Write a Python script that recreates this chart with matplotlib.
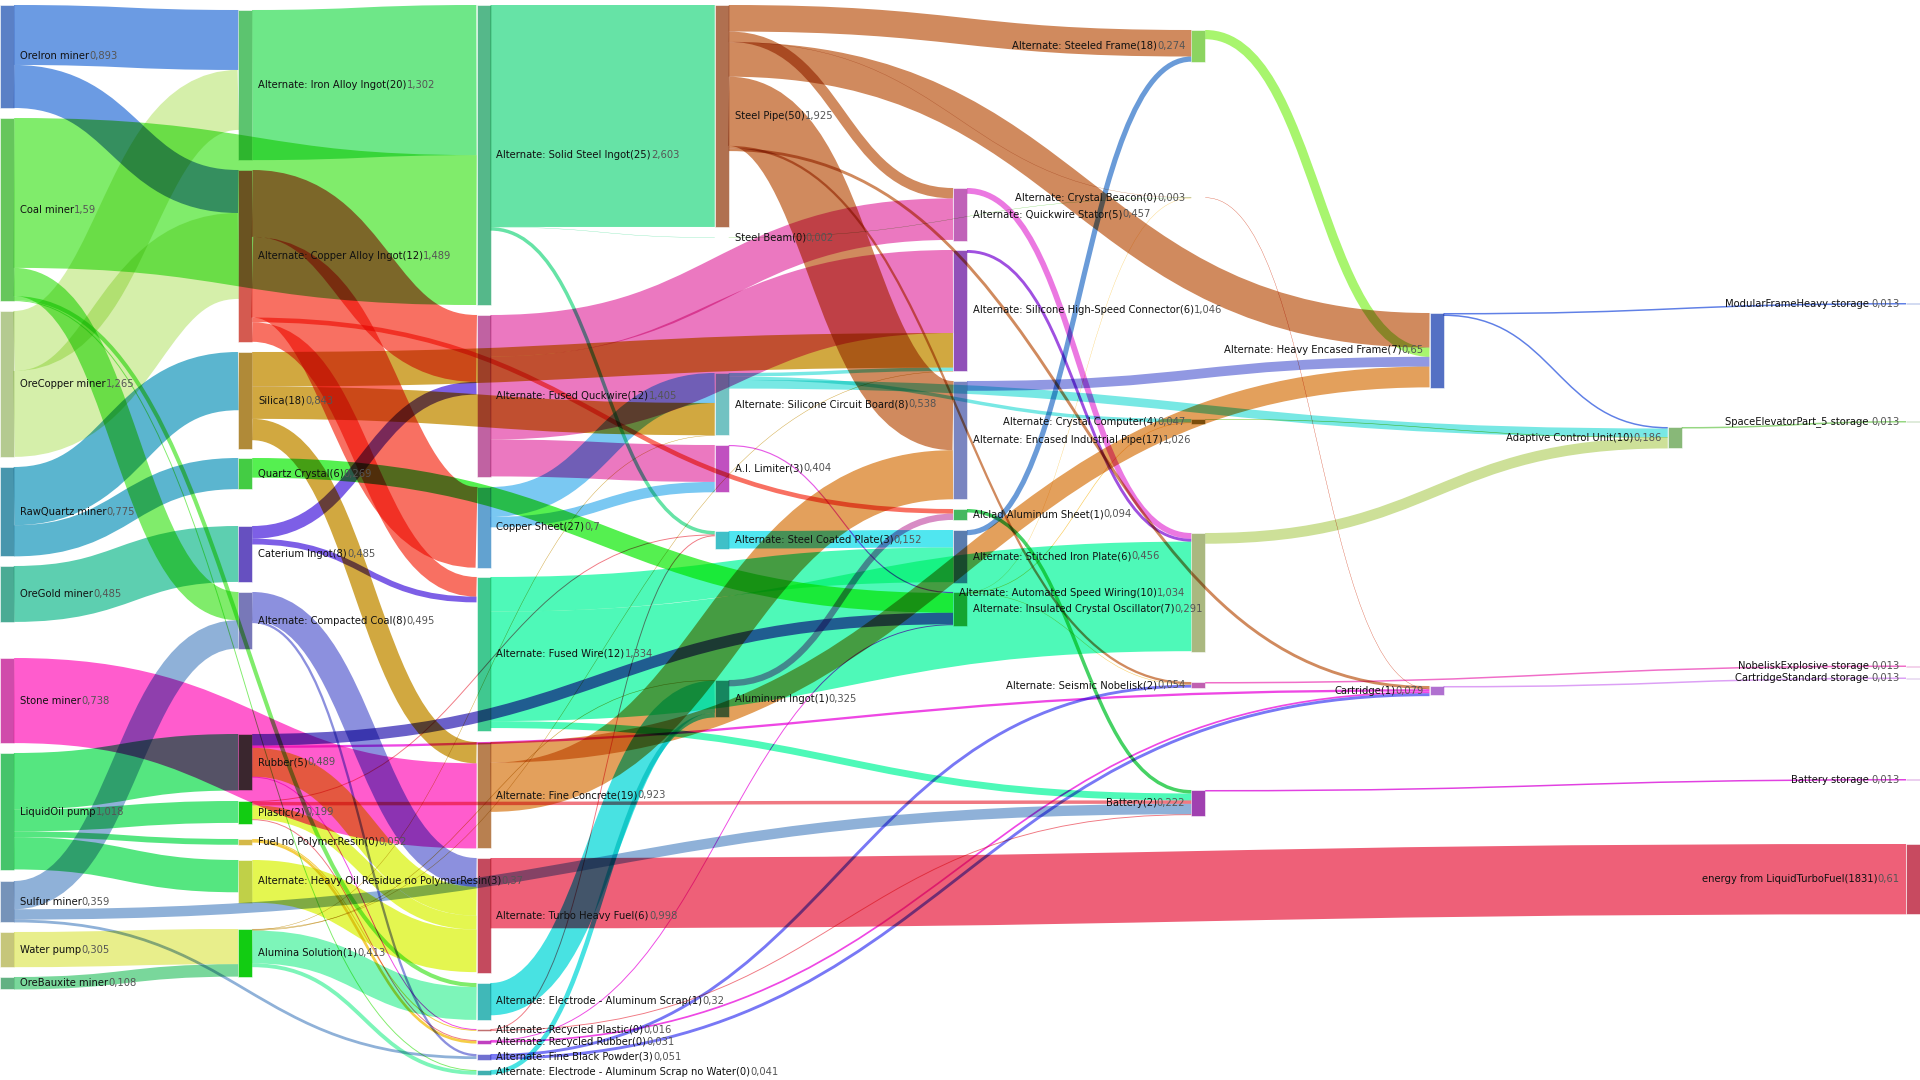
import matplotlib
matplotlib.use("Agg")
import matplotlib.pyplot as plt
from matplotlib.path import Path
from matplotlib.patches import PathPatch, Rectangle
from matplotlib.backends.backend_agg import RendererAgg
import numpy as np

# ---------------- data ----------------
node_names = [
    "OreIron miner", "Coal miner", "OreCopper miner", "RawQuartz miner", "OreGold miner",
    "Stone miner", "LiquidOil pump", "Sulfur miner", "Water pump", "OreBauxite miner",
    "Alternate: Iron Alloy Ingot(20)", "Alternate: Copper Alloy Ingot(12)", "Silica(18)",
    "Quartz Crystal(6)", "Caterium Ingot(8)", "Alternate: Compacted Coal(8)", "Rubber(5)",
    "Plastic(2)", "Fuel no PolymerResin(0)", "Alternate: Heavy Oil Residue no PolymerResin(3)",
    "Alumina Solution(1)",
    "Alternate: Solid Steel Ingot(25)", "Alternate: Fused Quckwire(12)", "Copper Sheet(27)",
    "Alternate: Fused Wire(12)", "Alternate: Fine Concrete(19)", "Alternate: Turbo Heavy Fuel(6)",
    "Alternate: Electrode - Aluminum Scrap(1)", "Alternate: Recycled Plastic(0)",
    "Alternate: Recycled Rubber(0)", "Alternate: Fine Black Powder(3)",
    "Alternate: Electrode - Aluminum Scrap no Water(0)",
    "Steel Pipe(50)", "Steel Beam(0)", "Alternate: Silicone Circuit Board(8)", "A.I. Limiter(3)",
    "Alternate: Steel Coated Plate(3)", "Aluminum Ingot(1)",
    "Alternate: Quickwire Stator(5)", "Alternate: Silicone High-Speed Connector(6)",
    "Alternate: Encased Industrial Pipe(17)", "Alclad Aluminum Sheet(1)",
    "Alternate: Stitched Iron Plate(6)", "Alternate: Insulated Crystal Oscillator(7)",
    "Alternate: Steeled Frame(18)", "Alternate: Crystal Beacon(0)", "Alternate: Crystal Computer(4)",
    "Alternate: Automated Speed Wiring(10)", "Alternate: Seismic Nobelisk(2)", "Battery(2)",
    "Alternate: Heavy Encased Frame(7)", "Cartridge(1)",
    "Adaptive Control Unit(10)",
    "ModularFrameHeavy storage ", "SpaceElevatorPart_5 storage ", "NobeliskExplosive storage ",
    "CartridgeStandard storage ", "Battery storage ", "energy from LiquidTurboFuel(1831)",
]
node_values = [
    0.893, 1.59, 1.265, 0.775, 0.485, 0.738, 1.018, 0.359, 0.305, 0.108,
    1.302, 1.489, 0.843, 0.269, 0.485, 0.495, 0.489, 0.199, 0.052, 0.37, 0.413,
    2.603, 1.405, 0.7, 1.334, 0.923, 0.998, 0.32, 0.016, 0.031, 0.051, 0.041,
    1.925, 0.002, 0.538, 0.404, 0.152, 0.325,
    0.457, 1.046, 1.026, 0.094, 0.456, 0.291,
    0.274, 0.003, 0.047, 1.034, 0.054, 0.222,
    0.65, 0.079,
    0.186,
    0.013, 0.013, 0.013, 0.013, 0.013, 0.61,
]

link_source = [
    "OreIron miner", "OreIron miner", "Coal miner", "Coal miner", "Coal miner", "Coal miner",
    "OreCopper miner", "OreCopper miner", "RawQuartz miner", "RawQuartz miner", "OreGold miner",
    "Stone miner", "LiquidOil pump", "LiquidOil pump", "LiquidOil pump", "LiquidOil pump",
    "Sulfur miner", "Sulfur miner", "Sulfur miner", "Water pump", "OreBauxite miner",
    "Alternate: Iron Alloy Ingot(20)",
    "Alternate: Copper Alloy Ingot(12)", "Alternate: Copper Alloy Ingot(12)",
    "Alternate: Copper Alloy Ingot(12)", "Alternate: Copper Alloy Ingot(12)",
    "Silica(18)", "Silica(18)", "Silica(18)", "Quartz Crystal(6)",
    "Caterium Ingot(8)", "Caterium Ingot(8)",
    "Alternate: Compacted Coal(8)", "Alternate: Compacted Coal(8)",
    "Rubber(5)", "Rubber(5)", "Rubber(5)", "Rubber(5)",
    "Plastic(2)", "Plastic(2)", "Plastic(2)", "Plastic(2)",
    "Fuel no PolymerResin(0)", "Fuel no PolymerResin(0)",
    "Alternate: Heavy Oil Residue no PolymerResin(3)",
    "Alumina Solution(1)", "Alumina Solution(1)", "Alumina Solution(1)", "Alumina Solution(1)",
    "Alumina Solution(1)",
    "Alternate: Solid Steel Ingot(25)", "Alternate: Solid Steel Ingot(25)",
    "Alternate: Solid Steel Ingot(25)",
    "Alternate: Fused Quckwire(12)", "Alternate: Fused Quckwire(12)", "Alternate: Fused Quckwire(12)",
    "Copper Sheet(27)", "Copper Sheet(27)",
    "Alternate: Fused Wire(12)", "Alternate: Fused Wire(12)", "Alternate: Fused Wire(12)",
    "Alternate: Fine Concrete(19)", "Alternate: Fine Concrete(19)",
    "Alternate: Turbo Heavy Fuel(6)",
    "Alternate: Electrode - Aluminum Scrap(1)", "Alternate: Electrode - Aluminum Scrap no Water(0)",
    "Alternate: Recycled Plastic(0)", "Alternate: Recycled Plastic(0)",
    "Alternate: Recycled Rubber(0)", "Alternate: Recycled Rubber(0)",
    "Alternate: Fine Black Powder(3)", "Alternate: Fine Black Powder(3)",
    "Steel Pipe(50)", "Steel Pipe(50)", "Steel Pipe(50)", "Steel Pipe(50)", "Steel Pipe(50)",
    "Steel Pipe(50)", "Steel Pipe(50)",
    "Steel Beam(0)",
    "Alternate: Silicone Circuit Board(8)", "Alternate: Silicone Circuit Board(8)",
    "Alternate: Silicone Circuit Board(8)",
    "A.I. Limiter(3)", "Alternate: Steel Coated Plate(3)", "Aluminum Ingot(1)",
    "Alternate: Quickwire Stator(5)", "Alternate: Silicone High-Speed Connector(6)",
    "Alternate: Encased Industrial Pipe(17)", "Alclad Aluminum Sheet(1)",
    "Alternate: Stitched Iron Plate(6)",
    "Alternate: Insulated Crystal Oscillator(7)", "Alternate: Insulated Crystal Oscillator(7)",
    "Alternate: Insulated Crystal Oscillator(7)",
    "Alternate: Steeled Frame(18)", "Alternate: Crystal Beacon(0)", "Alternate: Crystal Computer(4)",
    "Alternate: Automated Speed Wiring(10)", "Alternate: Seismic Nobelisk(2)", "Battery(2)",
    "Alternate: Heavy Encased Frame(7)", "Alternate: Heavy Encased Frame(7)", "Cartridge(1)",
    "Adaptive Control Unit(10)",
]
link_target = [
    "Alternate: Iron Alloy Ingot(20)", "Alternate: Copper Alloy Ingot(12)",
    "Alternate: Solid Steel Ingot(25)", "Alternate: Compacted Coal(8)",
    "Alternate: Electrode - Aluminum Scrap(1)", "Alternate: Electrode - Aluminum Scrap no Water(0)",
    "Alternate: Iron Alloy Ingot(20)", "Alternate: Copper Alloy Ingot(12)",
    "Silica(18)", "Quartz Crystal(6)", "Caterium Ingot(8)",
    "Alternate: Fine Concrete(19)", "Rubber(5)", "Plastic(2)", "Fuel no PolymerResin(0)",
    "Alternate: Heavy Oil Residue no PolymerResin(3)",
    "Alternate: Compacted Coal(8)", "Battery(2)", "Alternate: Fine Black Powder(3)",
    "Alumina Solution(1)", "Alumina Solution(1)",
    "Alternate: Solid Steel Ingot(25)",
    "Alternate: Fused Quckwire(12)", "Alclad Aluminum Sheet(1)", "Copper Sheet(27)",
    "Alternate: Fused Wire(12)",
    "Alternate: Silicone High-Speed Connector(6)", "Alternate: Silicone Circuit Board(8)",
    "Alternate: Fine Concrete(19)", "Alternate: Insulated Crystal Oscillator(7)",
    "Alternate: Fused Quckwire(12)", "Alternate: Fused Wire(12)",
    "Alternate: Turbo Heavy Fuel(6)", "Alternate: Fine Black Powder(3)",
    "Alternate: Insulated Crystal Oscillator(7)", "Cartridge(1)", "Alternate: Turbo Heavy Fuel(6)",
    "Alternate: Recycled Plastic(0)",
    "Alternate: Steel Coated Plate(3)", "Battery(2)", "Alternate: Turbo Heavy Fuel(6)",
    "Alternate: Recycled Rubber(0)",
    "Alternate: Recycled Rubber(0)", "Alternate: Recycled Plastic(0)",
    "Alternate: Turbo Heavy Fuel(6)",
    "Alternate: Electrode - Aluminum Scrap(1)", "Alternate: Electrode - Aluminum Scrap no Water(0)",
    "Alternate: Silicone Circuit Board(8)", "Alternate: Silicone High-Speed Connector(6)",
    "Aluminum Ingot(1)",
    "Steel Pipe(50)", "Steel Beam(0)", "Alternate: Steel Coated Plate(3)",
    "Alternate: Quickwire Stator(5)", "Alternate: Silicone High-Speed Connector(6)", "A.I. Limiter(3)",
    "Alternate: Silicone Circuit Board(8)", "A.I. Limiter(3)",
    "Alternate: Stitched Iron Plate(6)", "Alternate: Automated Speed Wiring(10)", "Battery(2)",
    "Alternate: Encased Industrial Pipe(17)", "Alternate: Heavy Encased Frame(7)",
    "energy from LiquidTurboFuel(1831)",
    "Aluminum Ingot(1)", "Aluminum Ingot(1)",
    "Alternate: Steel Coated Plate(3)", "Battery(2)",
    "Cartridge(1)", "Alternate: Insulated Crystal Oscillator(7)",
    "Alternate: Seismic Nobelisk(2)", "Cartridge(1)",
    "Alternate: Steeled Frame(18)", "Alternate: Quickwire Stator(5)", "Alternate: Crystal Beacon(0)",
    "Alternate: Heavy Encased Frame(7)", "Alternate: Encased Industrial Pipe(17)",
    "Alternate: Seismic Nobelisk(2)", "Cartridge(1)",
    "Alternate: Crystal Beacon(0)",
    "Alternate: Silicone High-Speed Connector(6)", "Alternate: Crystal Computer(4)",
    "Adaptive Control Unit(10)",
    "Alternate: Insulated Crystal Oscillator(7)", "Alternate: Stitched Iron Plate(6)",
    "Alclad Aluminum Sheet(1)",
    "Alternate: Automated Speed Wiring(10)", "Alternate: Automated Speed Wiring(10)",
    "Alternate: Heavy Encased Frame(7)", "Battery(2)", "Alternate: Steeled Frame(18)",
    "Alternate: Crystal Beacon(0)", "Alternate: Crystal Computer(4)", "Alternate: Seismic Nobelisk(2)",
    "Alternate: Heavy Encased Frame(7)", "Cartridge(1)", "Adaptive Control Unit(10)",
    "Adaptive Control Unit(10)", "NobeliskExplosive storage ", "Battery storage ",
    "ModularFrameHeavy storage ", "Adaptive Control Unit(10)", "CartridgeStandard storage ",
    "SpaceElevatorPart_5 storage ",
]
link_value = [
    0.52, 0.373, 1.30, 0.245, 0.035, 0.008,
    0.52, 0.745, 0.505, 0.27, 0.485,
    0.738, 0.49, 0.19, 0.05, 0.28,
    0.245, 0.09, 0.024, 0.305, 0.108,
    1.302,
    0.58, 0.04, 0.70, 0.17,
    0.30, 0.28, 0.185, 0.17,
    0.11, 0.05,
    0.25, 0.02,
    0.10, 0.02, 0.25, 0.008,
    0.008, 0.03, 0.12, 0.008,
    0.023, 0.008,
    0.37,
    0.285, 0.033, 0.004, 0.004, 0.005,
    1.925, 0.002, 0.03,
    0.36, 0.72, 0.32,
    0.26, 0.09,
    0.30, 0.95, 0.06,
    0.426, 0.18,
    0.61,
    0.28, 0.04,
    0.008, 0.008,
    0.015, 0.008,
    0.025, 0.025,
    0.23, 0.09, 0.002, 0.30, 0.60, 0.02, 0.025,
    0.002,
    0.03, 0.03, 0.075,
    0.01, 0.152, 0.055,
    0.05, 0.025, 0.085, 0.03, 0.045,
    0.002, 0.005, 0.004,
    0.08, 0.003, 0.005, 0.093, 0.013, 0.013,
    0.013, 0.013, 0.013,
    0.013,
]
link_item = [
    "ironore", "ironore", "coal", "coal", "coal", "coal",
    "copperore", "copperore", "rawquartz", "rawquartz", "catore",
    "limestone", "crude", "crude", "crude", "crude",
    "sulfur", "sulfur", "sulfur", "water", "bauxite",
    "ironingot",
    "copperingot", "copperingot", "copperingot", "copperingot",
    "silica", "silica", "silica", "quartz",
    "cateriumingot", "cateriumingot",
    "compactedcoal", "compactedcoal",
    "rubber_dark", "rubber", "hor", "rubber",
    "plastic", "plastic", "hor", "plastic",
    "fuel", "fuel",
    "hor",
    "alumina", "alumina", "silica", "silica", "silica",
    "steelingot", "steelingot", "steelingot",
    "quickwire", "quickwire", "quickwire",
    "coppersheet", "coppersheet",
    "wire", "wire", "wire",
    "concrete", "concrete",
    "turbofuel",
    "alscrap", "alscrap",
    "plastic", "plastic",
    "rubber", "rubber",
    "blackpowder", "blackpowder",
    "steelpipe", "steelpipe", "steelpipe", "steelpipe", "steelpipe", "steelpipe", "steelpipe",
    "steelbeam",
    "circuit", "circuit", "circuit",
    "ailimiter", "ironplate", "aluminumingot",
    "stator", "hsc", "encasedbeam", "alclad", "reinforced",
    "oscillator", "oscillator", "oscillator",
    "modframe", "beacon", "computer", "autowiring", "nobelisk", "battery",
    "heavyframe", "heavyframe", "cartridge",
    "acu",
]

# ---------------- layout / style ----------------
W, H = 1920, 1080
NODE_W = 14
COL_STEP = (W - NODE_W) / 8
SCALE = 115.3  # px per unit

node_layout = {  # column, top (px)
    "OreIron miner": (0, 5), "Coal miner": (0, 118), "OreCopper miner": (0, 311),
    "RawQuartz miner": (0, 467), "OreGold miner": (0, 566), "Stone miner": (0, 658),
    "LiquidOil pump": (0, 753), "Sulfur miner": (0, 881), "Water pump": (0, 932),
    "OreBauxite miner": (0, 977),
    "Alternate: Iron Alloy Ingot(20)": (1, 10), "Alternate: Copper Alloy Ingot(12)": (1, 170),
    "Silica(18)": (1, 352), "Quartz Crystal(6)": (1, 458), "Caterium Ingot(8)": (1, 526),
    "Alternate: Compacted Coal(8)": (1, 592), "Rubber(5)": (1, 734), "Plastic(2)": (1, 801),
    "Fuel no PolymerResin(0)": (1, 839), "Alternate: Heavy Oil Residue no PolymerResin(3)": (1, 860),
    "Alumina Solution(1)": (1, 929),
    "Alternate: Solid Steel Ingot(25)": (2, 5), "Alternate: Fused Quckwire(12)": (2, 315),
    "Copper Sheet(27)": (2, 487), "Alternate: Fused Wire(12)": (2, 577),
    "Alternate: Fine Concrete(19)": (2, 742), "Alternate: Turbo Heavy Fuel(6)": (2, 858),
    "Alternate: Electrode - Aluminum Scrap(1)": (2, 983), "Alternate: Recycled Plastic(0)": (2, 1029),
    "Alternate: Recycled Rubber(0)": (2, 1040), "Alternate: Fine Black Powder(3)": (2, 1054),
    "Alternate: Electrode - Aluminum Scrap no Water(0)": (2, 1070),
    "Steel Pipe(50)": (3, 5), "Steel Beam(0)": (3, 237.5),
    "Alternate: Silicone Circuit Board(8)": (3, 373), "A.I. Limiter(3)": (3, 445),
    "Alternate: Steel Coated Plate(3)": (3, 531), "Aluminum Ingot(1)": (3, 680),
    "Alternate: Quickwire Stator(5)": (4, 188), "Alternate: Silicone High-Speed Connector(6)": (4, 250),
    "Alternate: Encased Industrial Pipe(17)": (4, 381), "Alclad Aluminum Sheet(1)": (4, 509),
    "Alternate: Stitched Iron Plate(6)": (4, 530), "Alternate: Insulated Crystal Oscillator(7)": (4, 592),
    "Alternate: Steeled Frame(18)": (5, 30), "Alternate: Crystal Beacon(0)": (5, 197.5),
    "Alternate: Crystal Computer(4)": (5, 419), "Alternate: Automated Speed Wiring(10)": (5, 533),
    "Alternate: Seismic Nobelisk(2)": (5, 682), "Battery(2)": (5, 790),
    "Alternate: Heavy Encased Frame(7)": (6, 313), "Cartridge(1)": (6, 686),
    "Adaptive Control Unit(10)": (7, 427),
    "ModularFrameHeavy storage ": (8, 303), "SpaceElevatorPart_5 storage ": (8, 421),
    "NobeliskExplosive storage ": (8, 665.5), "CartridgeStandard storage ": (8, 677.5),
    "Battery storage ": (8, 779), "energy from LiquidTurboFuel(1831)": (8, 844),
}

# incoming-band order that differs from the default (sorted by source position)
inflow_order = {
    "Alternate: Silicone Circuit Board(8)": ["Copper Sheet(27)", "Silica(18)", "Alumina Solution(1)"],
}

node_colors = [
    "#5a80c6", "#66c65c", "#b4ca90", "#4896ad", "#4aab94", "#d04bab", "#45c46b", "#7693b9",
    "#c6c67a", "#62b182",
    "#5cc46f", "#d45a50", "#b08a38", "#44cc44", "#6650c0", "#7878b8", "#3a6a3a", "#12cc12",
    "#d4b848", "#c0d048", "#12cc12",
    "#55b88a", "#c062a2", "#62a2d0", "#40c890", "#b88050", "#c44a5e", "#40b8b8", "#c07070",
    "#c040c0", "#7070d0", "#40b0b0",
    "#b07050", "#60a060", "#72c2c2", "#c050c0", "#40c0c8", "#4a8a84",
    "#c062b8", "#9050b8", "#7a85c0", "#44b860", "#5a7cae", "#44aa44",
    "#8cd460", "#b05030", "#8a7a20", "#aab880", "#c060b0", "#a040b0",
    "#5470c4", "#b070d0", "#88b878",
    "#5070c8", "#80b070", "#d050b0", "#b080d0", "#b040c0", "#c84a60",
]

item_colors = {  # colour of a link over white; overlaps are multiplied
    "ironore": "#6b9be3", "copperore": "#d5efaa", "coal": "#80ec6b", "rawquartz": "#5bb5cf",
    "catore": "#5dcfb0", "limestone": "#ff5ccd", "crude": "#55e680", "sulfur": "#8fb1d8",
    "water": "#e8ee8b", "bauxite": "#79d79b", "ironingot": "#6ee788", "copperingot": "#f87062",
    "silica": "#d1a840", "quartz": "#55f050", "cateriumingot": "#7d5fe6",
    "compactedcoal": "#8c90de", "rubber": "#ee48e4", "rubber_dark": "#6a60c8", "hor": "#e4f650",
    "plastic": "#f07882", "fuel": "#f5cd46", "alumina": "#7df5b9", "steelingot": "#66e3a6",
    "quickwire": "#eb78c0", "coppersheet": "#7ac8f2", "wire": "#4ef9b8", "concrete": "#e3a05c",
    "turbofuel": "#ee6078", "alscrap": "#48e2e2", "blackpowder": "#7878f5", "steelpipe": "#d08a5e",
    "steelbeam": "#78d25a", "circuit": "#78e8e4", "ailimiter": "#e65ae6", "ironplate": "#50e6f0",
    "aluminumingot": "#d88cc4", "stator": "#eb78e1", "hsc": "#a050e0", "encasedbeam": "#9198e2",
    "alclad": "#46d264", "reinforced": "#6a9bd8", "oscillator": "#fac850", "modframe": "#a8f56e",
    "beacon": "#d75032", "computer": "#82c83c", "autowiring": "#cde098", "nobelisk": "#f06ec8",
    "battery": "#e141e1", "heavyframe": "#6080e6", "cartridge": "#dca0f5", "acu": "#96d782",
}

# ---------------- geometry ----------------
idx = {n: i for i, n in enumerate(node_names)}
N = len(node_names)
x0 = np.zeros(N)
y0 = np.zeros(N)
for n, (col, top) in node_layout.items():
    x0[idx[n]] = col * COL_STEP
    y0[idx[n]] = top
hgt = np.array(node_values) * SCALE

src = [idx[s] for s in link_source]
tgt = [idx[t] for t in link_target]
L = len(link_value)
wid = np.array(link_value) * SCALE

sy = np.zeros(L)
ty = np.zeros(L)
for n in range(N):
    outs = sorted([k for k in range(L) if src[k] == n], key=lambda k: (y0[tgt[k]], k))
    y = y0[n]
    for k in outs:
        sy[k] = y + wid[k] / 2
        y += wid[k]
    ins = [k for k in range(L) if tgt[k] == n]
    if node_names[n] in inflow_order:
        pref = inflow_order[node_names[n]]
        ins.sort(key=lambda k: (pref.index(node_names[src[k]]), k))
    else:
        ins.sort(key=lambda k: (y0[src[k]], k))
    y = y0[n]
    for k in ins:
        ty[k] = y + wid[k] / 2
        y += wid[k]

# ---------------- draw ----------------
DPI = 100
fig = plt.figure(figsize=(W / DPI, H / DPI), dpi=DPI)
ax = fig.add_axes([0, 0, 1, 1])
ax.set_xlim(0, W)
ax.set_ylim(H, 0)
ax.axis("off")


class MultiplyBlend:
    """agg filter: composite the artist onto the canvas with a multiply blend."""

    def __init__(self, artist):
        self.artist = artist

    def __call__(self, img, dpi):
        main = fig.canvas.renderer
        tmp = RendererAgg(int(main.width), int(main.height), main.dpi)
        self.artist.set_agg_filter(None)
        self.artist.draw(tmp)
        self.artist.set_agg_filter(self)
        a = np.asarray(tmp.buffer_rgba())[..., 3]
        rows = np.nonzero(a.any(axis=1))[0]
        cols = np.nonzero(a.any(axis=0))[0]
        if len(rows) == 0:
            return img, 0, 0
        sl_y = slice(rows[0], rows[-1] + 1)
        sl_x = slice(cols[0], cols[-1] + 1)
        bg = np.asarray(main.buffer_rgba())[sl_y, sl_x, :3].astype(float) / 255.0
        if bg.shape[:2] != img.shape[:2]:
            return img, 0, 0
        col = img[..., :3]
        al = img[..., 3:4]
        out = np.empty_like(img)
        out[..., :3] = bg * (1.0 - al + al * col)
        out[..., 3] = (al[..., 0] > 0).astype(float)
        return out, 0, 0


for n in range(N):
    ax.add_patch(Rectangle((x0[n], y0[n]), NODE_W, max(hgt[n], 0.3),
                           facecolor=node_colors[n], edgecolor=(1, 1, 1, 0.6),
                           linewidth=0.6, zorder=1))

for k in range(L):
    xs = x0[src[k]] + NODE_W
    xt = x0[tgt[k]]
    xm = (xs + xt) / 2
    verts = [(xs, sy[k]), (xm, sy[k]), (xm, ty[k]), (xt, ty[k])]
    codes = [Path.MOVETO, Path.CURVE4, Path.CURVE4, Path.CURVE4]
    p = PathPatch(Path(verts, codes), fill=False, edgecolor=item_colors[link_item[k]],
                  linewidth=max(wid[k], 0.3) * 72 / DPI, capstyle="butt", zorder=2)
    ax.add_patch(p)
    p.set_agg_filter(MultiplyBlend(p))

FS = 10 * 72 / DPI
for n in range(N):
    yc = y0[n] + hgt[n] / 2
    val = str(node_values[n]).replace(".", ",")
    if x0[n] < W / 2:
        t1 = ax.text(x0[n] + NODE_W + 6, yc, node_names[n], ha="left", va="center",
                     fontsize=FS, color="#111111", family="DejaVu Sans", zorder=5)
        ax.annotate(val, xy=(1, 0), xycoords=t1, ha="left", va="bottom",
                    fontsize=FS, color="#555555", family="DejaVu Sans", zorder=5)
    else:
        t1 = ax.text(x0[n] - 6, yc, val, ha="right", va="center",
                     fontsize=FS, color="#555555", family="DejaVu Sans", zorder=5)
        ax.annotate(node_names[n], xy=(0, 0), xycoords=t1, ha="right", va="bottom",
                    fontsize=FS, color="#111111", family="DejaVu Sans", zorder=5)

fig.savefig("out.png", dpi=DPI, facecolor="white")
